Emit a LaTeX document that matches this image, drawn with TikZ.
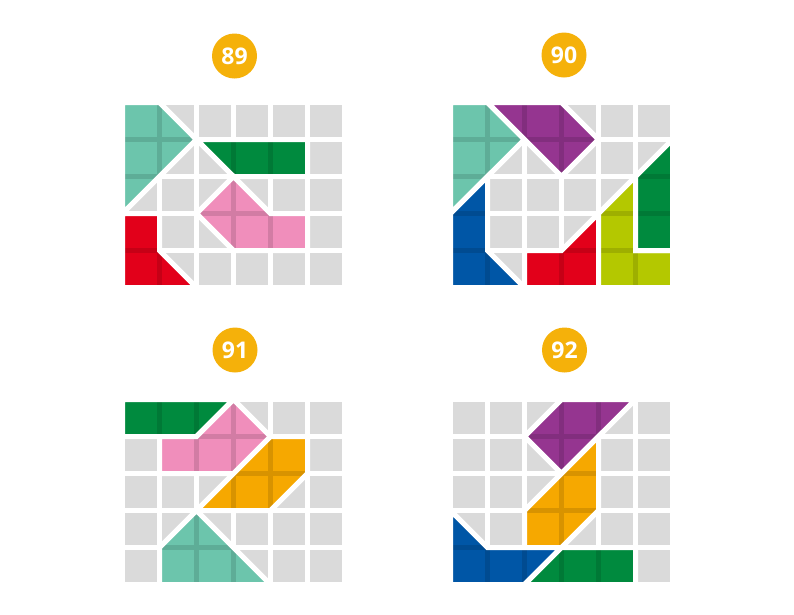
\documentclass[tikz,border=0pt]{standalone}
\usepackage{fontspec}
\setmainfont{Open Sans}
\definecolor{tilegray}{HTML}{DADADA}
\definecolor{badgeyellow}{HTML}{F5B10A}
\definecolor{teal}{HTML}{6CC5AC}
\definecolor{dgreen}{HTML}{008A3E}
\definecolor{pink}{HTML}{F08EBB}
\definecolor{red}{HTML}{E2001A}
\definecolor{purple}{HTML}{953590}
\definecolor{blue}{HTML}{0056A6}
\definecolor{lime}{HTML}{B4C800}
\definecolor{orange}{HTML}{F6A800}

\newcommand\board{%
  \foreach \i in {0,...,5}
    \foreach \j in {0,...,4}
      \fill[cell] (\i+0.0676,\j+0.0676) rectangle (\i+0.9324,\j+0.9324);}
\newcommand\tile[2]{%
  \begin{scope}
    \clip #2 -- cycle;
    \fill[#1] (0,0) rectangle (6,5);
    \draw[seam] foreach \k in {1,...,5} {(\k,0) -- (\k,5)}
                foreach \k in {1,...,4} {(0,\k) -- (6,\k)};
  \end{scope}
  \draw[cut] #2 -- cycle;}

\begin{document}
\begin{tikzpicture}[
    x=1pt, y=-1pt,
    cell/.style={fill=tilegray},
    seam/.style={line width=5pt, draw=black, draw opacity=0.12},
    cut/.style={draw=white, line width=5pt},
    badge/.style={circle, fill=badgeyellow, text=white, minimum size=45pt, inner sep=0pt, font=\fontsize{23}{23}\selectfont\bfseries}
  ]
    \useasboundingbox (0,0) rectangle (794,614);
    \node[badge] (n89) at (234.5,56) {89};
    \node[badge] (n90) at (564,55) {90};
    \node[badge] (n91) at (235,350) {91};
    \node[badge] (n92) at (564.5,350) {92};

    \begin{scope}[shift={(122.5,102.5)}, x=37pt, y=-37pt]
      \board
      \tile{teal}{(0,0) -- (1,0) -- (2,1) -- (0,3)}
      \tile{dgreen}{(2,1) -- (5,1) -- (5,2) -- (3,2)}
      \tile{pink}{(3,2) -- (4,3) -- (5,3) -- (5,4) -- (3,4) -- (2,3)}
      \tile{red}{(0,3) -- (1,3) -- (1,4) -- (2,5) -- (0,5)}
    \end{scope}

    \begin{scope}[shift={(450.5,102.5)}, x=37pt, y=-37pt]
      \board
      \tile{teal}{(0,0) -- (1,0) -- (2,1) -- (0,3)}
      \tile{purple}{(1,0) -- (3,0) -- (4,1) -- (3,2)}
      \tile{blue}{(0,3) -- (1,2) -- (1,4) -- (2,5) -- (0,5)}
      \tile{red}{(2,4) -- (3,4) -- (4,3) -- (4,5) -- (2,5)}
      \tile{lime}{(4,3) -- (5,2) -- (5,4) -- (6,4) -- (6,5) -- (4,5)}
      \tile{dgreen}{(5,2) -- (6,1) -- (6,4) -- (5,4)}
    \end{scope}

    \begin{scope}[shift={(122.5,399.5)}, x=37pt, y=-37pt]
      \board
      \tile{dgreen}{(0,0) -- (3,0) -- (2,1) -- (0,1)}
      \tile{pink}{(3,0) -- (4,1) -- (4,2) -- (1,2) -- (1,1) -- (2,1)}
      \tile{orange}{(4,1) -- (5,1) -- (5,2) -- (4,3) -- (2,3)}
      \tile{teal}{(2,3) -- (4,5) -- (1,5) -- (1,4)}
    \end{scope}

    \begin{scope}[shift={(450.5,399.5)}, x=37pt, y=-37pt]
      \board
      \tile{purple}{(2,1) -- (3,0) -- (5,0) -- (3,2)}
      \tile{orange}{(4,1) -- (4,3) -- (3,4) -- (2,4) -- (2,3)}
      \tile{blue}{(0,3) -- (1,4) -- (3,4) -- (2,5) -- (0,5)}
      \tile{dgreen}{(3,4) -- (5,4) -- (5,5) -- (2,5)}
    \end{scope}
  \end{tikzpicture}
\end{document}
